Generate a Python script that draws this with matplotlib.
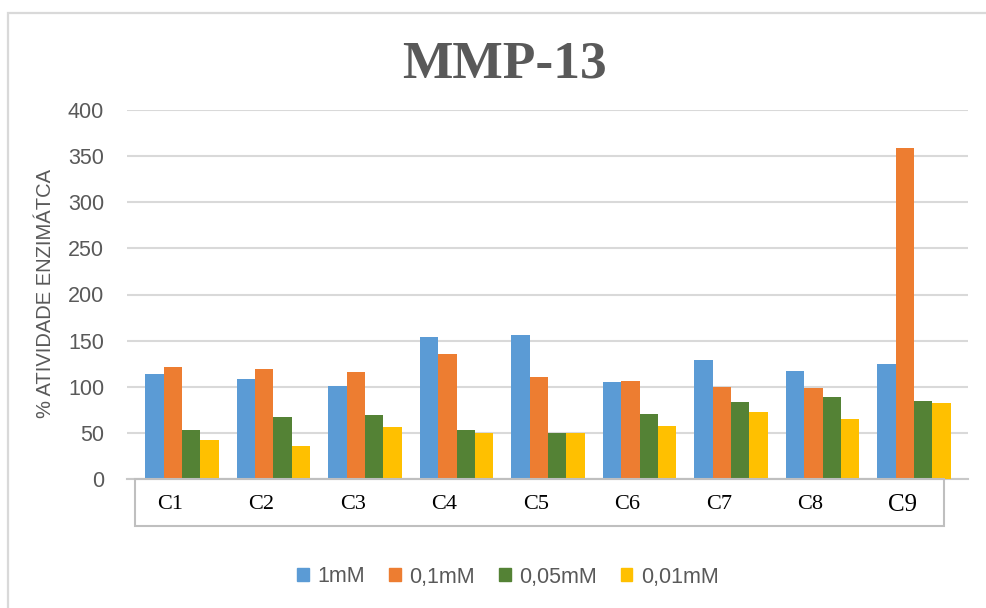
import matplotlib
matplotlib.use("Agg")
import matplotlib.pyplot as plt
from matplotlib.patches import Rectangle, Patch
import numpy as np

categories = ["C1", "C2", "C3", "C4", "C5", "C6", "C7", "C8", "C9"]
series_names = ["1mM", "0,1mM", "0,05mM", "0,01mM"]
v_1mM = [114, 108, 101, 154, 156, 105, 129, 117, 125]
v_01mM = [121, 119, 116, 135, 111, 106, 100, 99, 359]
v_005mM = [53, 67, 69, 53, 50, 71, 83, 89, 85]
v_001mM = [42, 36, 56, 50, 50, 57, 73, 65, 82]
yticks = [0, 50, 100, 150, 200, 250, 300, 350, 400]

colors = ["#5B9BD5", "#ED7D31", "#548235", "#FFC000"]
gray = "#595959"
W, H = 987, 608

fig = plt.figure(figsize=(W / 100, H / 100), dpi=100)
fig.patch.set_facecolor("white")

# outer chart border
fig.add_artist(Rectangle((8.5 / W, -0.05), 1.2, (H - 13) / H + 0.05,
                         transform=fig.transFigure, fill=False,
                         edgecolor="#D9D9D9", lw=1.6, zorder=0))

ax = fig.add_axes([127 / W, (H - 479) / H, (968 - 127) / W, (479 - 110) / H])
x = np.arange(len(categories))
bw = 0.2
for i, (vals, c, name) in enumerate(zip([v_1mM, v_01mM, v_005mM, v_001mM], colors, series_names)):
    ax.bar(x + (i - 1.5) * bw, vals, width=bw, color=c, label=name, zorder=3)

ax.set_xlim(-0.601, 8.59)
ax.set_ylim(0, 400)
ax.set_yticks(yticks)
ax.set_yticklabels([str(t) for t in yticks], fontsize=15.5, color=gray,
                   fontfamily="Liberation Sans")
ax.tick_params(axis="y", length=0, pad=16.5)
ax.set_xticks([])
ax.grid(axis="y", color="#D9D9D9", lw=1.5, zorder=0)
for s in ["top", "right", "left"]:
    ax.spines[s].set_visible(False)
ax.spines["bottom"].set_color("#C8C8C8")
ax.spines["bottom"].set_linewidth(1.5)

ax.set_ylabel("% ATIVIDADE ENZIMÁTCA", fontsize=14.5, color=gray,
              fontfamily="Liberation Sans")
ax.yaxis.set_label_coords((55 - 127) / (968 - 127), (479 - 294) / (479 - 110))

# category label box
fig.add_artist(Rectangle((135 / W, (H - 526) / H), (944 - 135) / W, 47 / H,
                         transform=fig.transFigure, fill=False,
                         edgecolor="#BFBFBF", lw=1.5, zorder=5))
for i, cat in enumerate(categories):
    ax.text(x[i] - 0.13, -28, cat, transform=ax.transData,
            ha="center", va="center", fontsize=18 if cat == "C9" else 16,
            fontfamily="Liberation Serif", color="black", clip_on=False)

fig.text(505 / W, 1 - 65 / H, "MMP-13", ha="center", va="center",
         fontsize=38.5, fontweight="bold", fontfamily="Liberation Serif", color=gray)

handles = [Patch(facecolor=c, edgecolor=c) for c in colors]
leg = fig.legend(handles, series_names, loc="center", ncol=4,
                 bbox_to_anchor=(508 / W, 1 - 577 / H), frameon=False,
                 prop={"family": "Liberation Sans", "size": 15.5},
                 handlelength=0.55, handleheight=0.55, handletextpad=0.4,
                 columnspacing=1.1)
for t in leg.get_texts():
    t.set_color(gray)

fig.savefig("out.png", dpi=100, facecolor="white")
